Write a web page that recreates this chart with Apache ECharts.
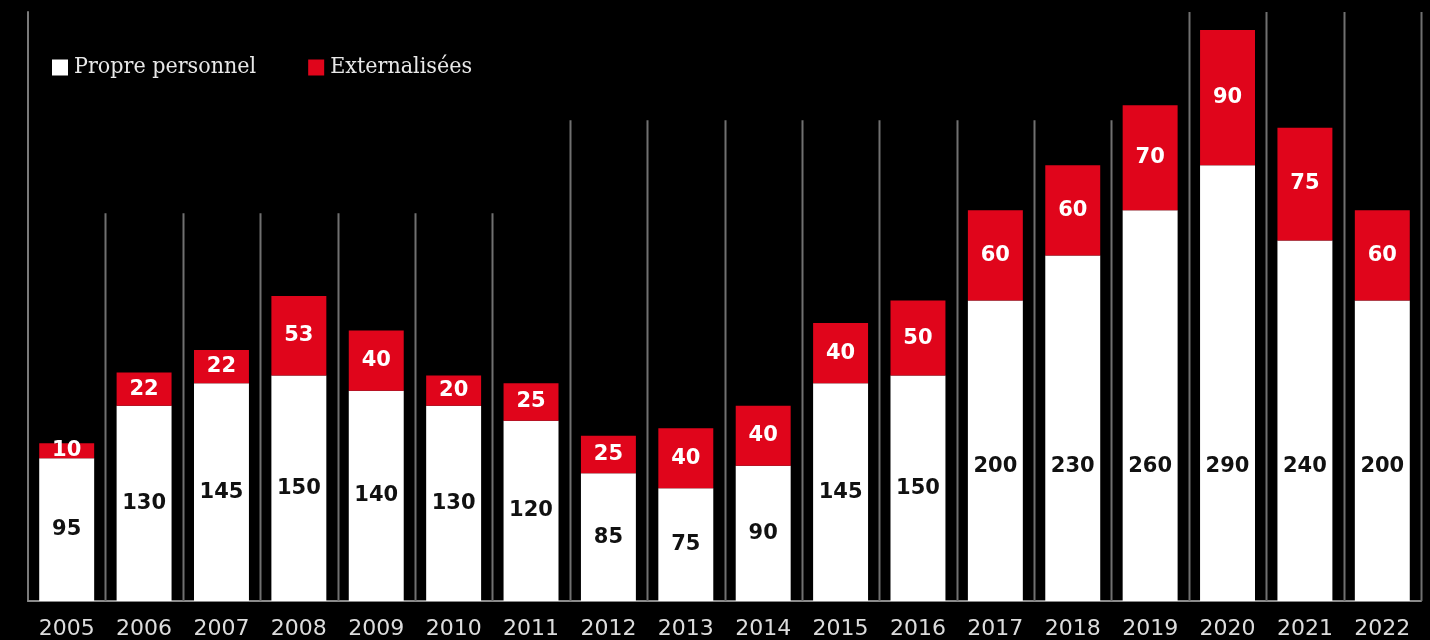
<!DOCTYPE html>
<html>
<head>
<meta charset="utf-8">
<script src="https://cdn.jsdelivr.net/npm/echarts@6/dist/echarts.min.js"></script>
<style>
html,body{margin:0;padding:0;background:#000;}
#chart{width:1430px;height:640px;}
</style>
</head>
<body>
<div id="chart"></div>
<script>
const categories = ['2005','2006','2007','2008','2009','2010','2011','2012','2013','2014','2015','2016','2017','2018','2019','2020','2021','2022'];
const propre = [95,130,145,150,140,130,120,85,75,90,145,150,200,230,260,290,240,200];
const externe = [10,22,22,53,40,20,25,25,40,40,40,50,60,60,70,90,75,60];
// height (in axis units) of the decorative divider to the right of each year
const separatorTops = [258,258,258,258,258,258,320,320,320,320,320,320,320,320,392,392,392,392];
const seriesNames = ['Propre personnel','Externalisées'];

const chart = echarts.init(document.getElementById('chart'));
const labelFont = "'DejaVu Sans', sans-serif";

// tall white bars: keep their value label at a fixed height above the baseline, as in the original
const propreData = propre.map(v => v >= 180
  ? {value: v, label: {position: 'insideBottom', distance: 124}}
  : v);

chart.setOption({
  backgroundColor: '#000',
  animation: false,
  grid: {left: 28, right: 9, top: 12, bottom: 39},
  legend: {
    left: 47, top: 51,
    icon: 'rect', itemWidth: 16, itemHeight: 16, itemGap: 52,
    data: seriesNames,
    textStyle: {color: '#e8e8e8', fontSize: 23, fontFamily: "'DejaVu Serif Condensed', 'DejaVu Serif', serif", padding: [0,0,0,1]}
  },
  xAxis: {
    type: 'category', data: categories,
    axisLine: {show: true, lineStyle: {color: '#8a8a8a', width: 2}},
    axisTick: {show: false},
    axisLabel: {color: '#dcdcdc', fontSize: 22, fontFamily: labelFont, margin: 17}
  },
  yAxis: {
    type: 'value', min: 0, max: 392,
    axisLine: {show: true, lineStyle: {color: '#7a7a7a', width: 2}},
    axisTick: {show: false}, axisLabel: {show: false}, splitLine: {show: false}
  },
  series: [
    {
      type: 'custom', name: 'dividers', silent: true, z: 1,
      data: separatorTops.map((v, i) => [i, v]),
      renderItem: function (params, api) {
        const i = api.value(0);
        const base = api.coord([i, 0]);
        const top = api.coord([i, api.value(1)]);
        const w = api.size([1, 0])[0];
        const x = Math.round(base[0] + w / 2) + 0.5;
        return {type: 'line', shape: {x1: x, y1: base[1], x2: x, y2: top[1]}, style: {stroke: '#707070', lineWidth: 2}};
      }
    },
    {
      name: seriesNames[0], type: 'bar', stack: 'total', data: propreData, barWidth: '71%', z: 3,
      itemStyle: {color: '#ffffff'},
      label: {show: true, position: 'inside', color: '#111', fontSize: 21, fontWeight: 'bold', fontFamily: labelFont}
    },
    {
      name: seriesNames[1], type: 'bar', stack: 'total', data: externe, barWidth: '71%', z: 3,
      itemStyle: {color: '#e0051b'},
      label: {show: true, position: 'inside', color: '#ffffff', fontSize: 21, fontWeight: 'bold', fontFamily: labelFont}
    }
  ]
});
</script>
</body>
</html>
